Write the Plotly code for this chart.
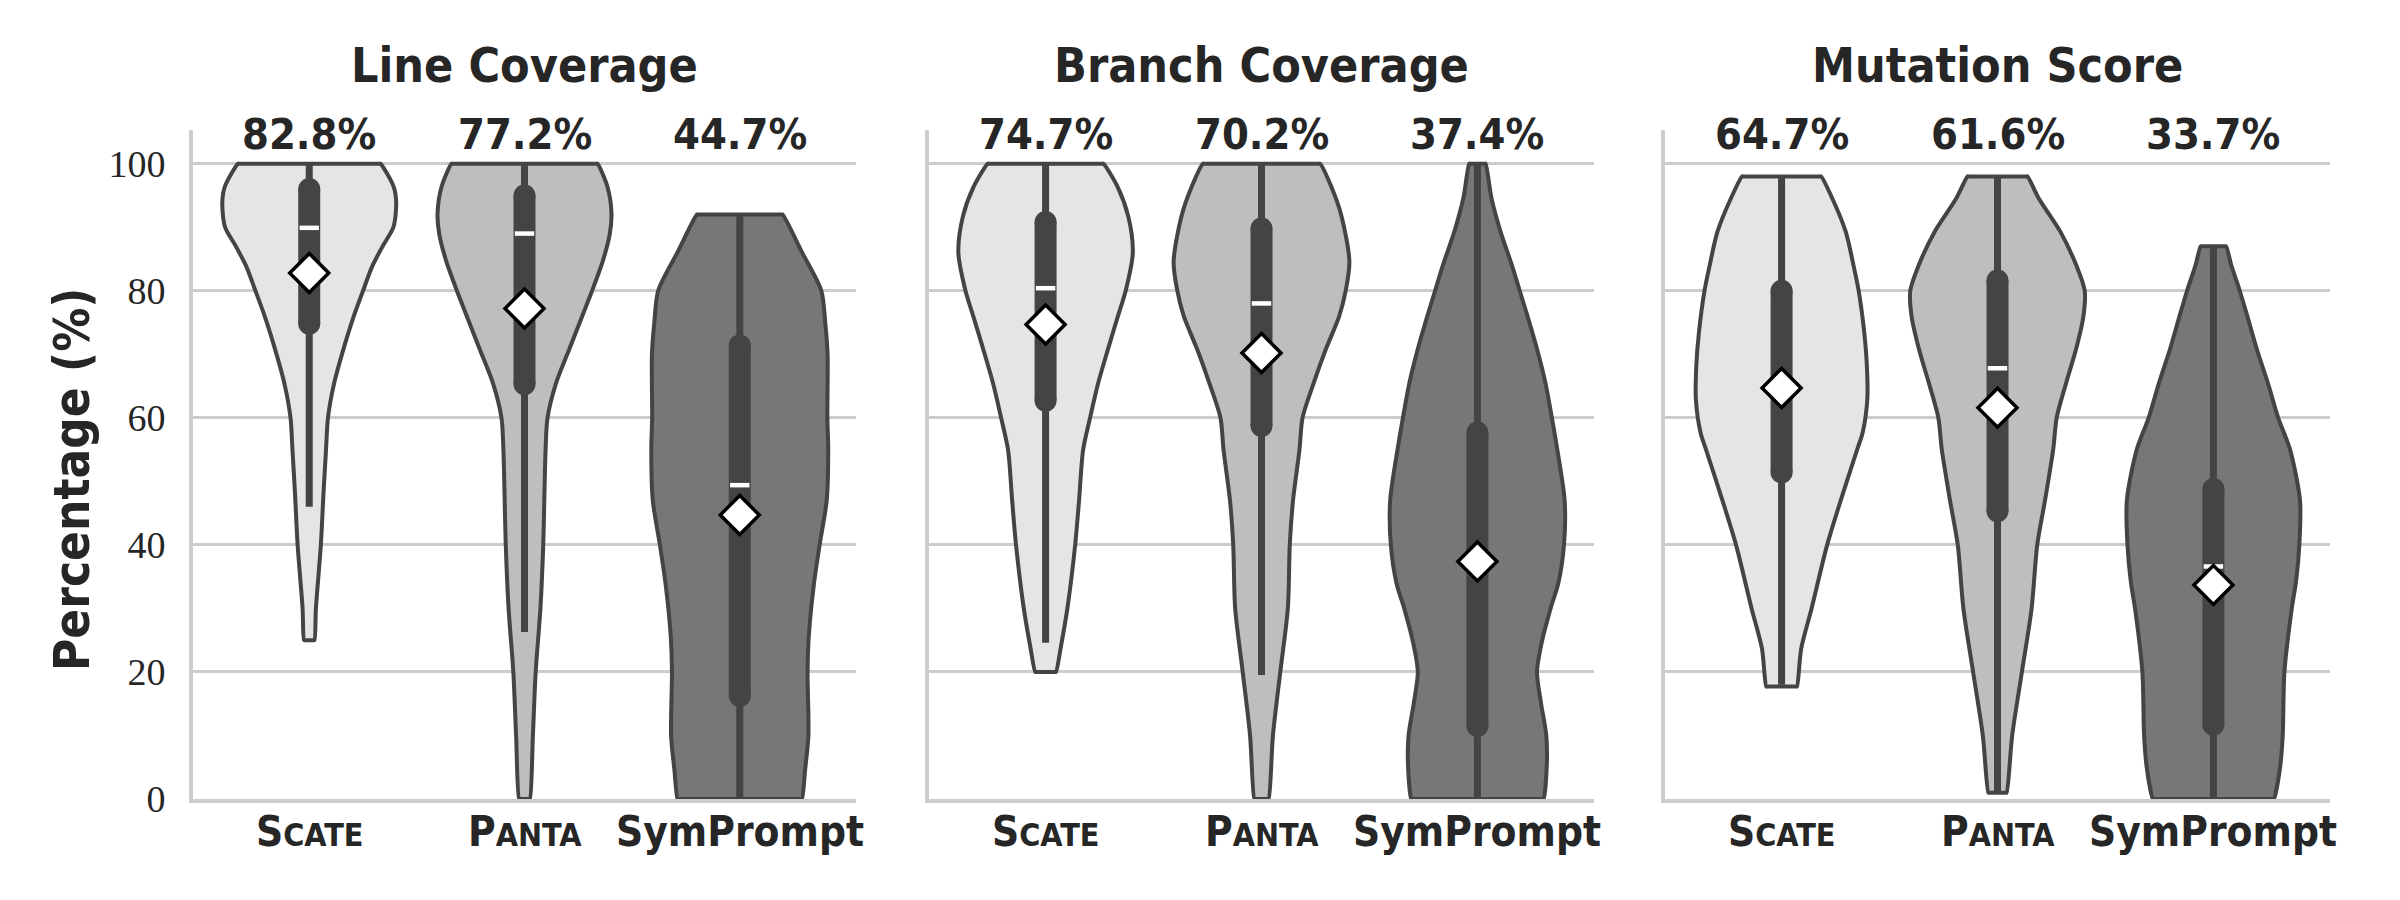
import plotly.graph_objects as go

# ---------------- data ----------------
categories = ["Scate", "Panta", "SymPrompt"]
tick_labels = ["S<span style='font-size:32px'>CATE</span>",
               "P<span style='font-size:32px'>ANTA</span>",
               "SymPrompt"]
metrics = ["Line Coverage", "Branch Coverage", "Mutation Score"]

# mean values (diamonds / labels)
lc_means = [82.8, 77.2, 44.7]
bc_means = [74.7, 70.2, 37.4]
ms_means = [64.7, 61.6, 33.7]

# medians
lc_medians = [89.9, 89.0, 49.4]
bc_medians = [80.4, 78.0, 37.0]
ms_medians = [64.5, 67.8, 36.6]

# quartiles (q1, q3)
lc_q1 = [74.8, 65.3, 16.2]
lc_q3 = [96.0, 95.0, 71.4]
bc_q1 = [62.7, 58.7, 11.5]
bc_q3 = [90.8, 89.8, 57.7]
ms_q1 = [51.4, 45.3, 11.7]
ms_q3 = [80.0, 81.6, 48.8]

# whisker ends (low, high)
lc_wlo = [46.0, 26.3, 0.0]
lc_whi = [100.0, 100.0, 92.0]
bc_wlo = [24.6, 19.5, 0.0]
bc_whi = [100.0, 100.0, 100.0]
ms_wlo = [18.0, 1.0, 0.0]
ms_whi = [98.0, 98.0, 87.0]

# violin density profiles: value levels and half-widths (category units)
lc_scate_y = [25, 30, 40, 48, 55, 60, 65.5, 70.7, 76, 80, 83.8, 87, 90, 93.8, 96.4, 100]
lc_scate_w = [.024, .031, .054, .066, .078, .087, .116, .158, .207, .250, .292, .341, .391, .404, .392, .331]
lc_panta_y = [0, 10, 20, 30, 40, 55, 60, 65.5, 70.7, 76, 80, 84.7, 88.9, 92.2, 96.4, 100]
lc_panta_w = [.025, .039, .052, .074, .087, .098, .107, .147, .207, .268, .314, .364, .396, .404, .385, .339]
lc_symp_y = [0, 4.7, 10, 20, 25.8, 33.7, 40, 47, 55, 60, 70, 75, 80, 86, 92]
lc_symp_w = [.289, .304, .319, .315, .321, .344, .371, .404, .411, .407, .408, .397, .379, .29, .199]

bc_scate_y = [20, 24, 30, 40, 47, 55, 60, 65.5, 70.7, 76, 80, 86, 91.7, 96.4, 100]
bc_scate_w = [.048, .071, .101, .137, .155, .174, .206, .244, .288, .335, .371, .404, .383, .333, .268]
bc_panta_y = [0, 10, 20, 30, 40, 47, 55, 60, 65.5, 70.7, 76, 80, 84.6, 91.7, 96.4, 100]
bc_panta_w = [.033, .053, .087, .122, .131, .146, .176, .19, .242, .297, .360, .390, .407, .371, .323, .271]
bc_symp_y = [0, 5, 10, 15, 20, 24.5, 30, 34, 40, 47, 55, 60, 65.5, 70.7, 76, 80, 84, 89.3, 94.6, 100]
bc_symp_w = [.306, .321, .319, .295, .276, .297, .339, .375, .401, .404, .37, .345, .315, .277, .232, .196, .160, .107, .065, .038]

ms_scate_y = [17.7, 23.7, 30, 40, 47, 55, 57.6, 62.9, 68.2, 73.4, 80, 84, 89.3, 94.6, 98]
ms_scate_w = [.071, .091, .139, .211, .274, .35, .375, .397, .395, .383, .357, .333, .297, .234, .183]
ms_panta_y = [1, 10, 20, 30, 40, 47, 55, 60, 65.5, 70.7, 76, 80, 84, 89.3, 94.6, 98]
ms_panta_w = [.042, .068, .113, .158, .184, .22, .258, .274, .318, .363, .398, .404, .365, .291, .190, .139]
ms_symp_y = [0, 5, 10, 20, 30, 34.3, 40, 47, 55, 60, 65.5, 70.7, 76, 80, 84, 87]
ms_symp_w = [.28, .309, .321, .329, .363, .383, .398, .401, .355, .300, .252, .202, .157, .122, .083, .059]

# ---------------- styling ----------------
fills = ["#e5e5e5", "#bebebe", "#777777"]
edge = "#444444"
text_col = "#262626"
grid_col = "#cccccc"
cond = "DejaVu Sans Condensed, Liberation Sans Narrow, DejaVu Sans, sans-serif"
serif = "Liberation Serif, DejaVu Serif, serif"

panels = [
    dict(means=lc_means, med=lc_medians, q1=lc_q1, q3=lc_q3, wlo=lc_wlo, whi=lc_whi,
         prof=[(lc_scate_y, lc_scate_w), (lc_panta_y, lc_panta_w), (lc_symp_y, lc_symp_w)]),
    dict(means=bc_means, med=bc_medians, q1=bc_q1, q3=bc_q3, wlo=bc_wlo, whi=bc_whi,
         prof=[(bc_scate_y, bc_scate_w), (bc_panta_y, bc_panta_w), (bc_symp_y, bc_symp_w)]),
    dict(means=ms_means, med=ms_medians, q1=ms_q1, q3=ms_q3, wlo=ms_wlo, whi=ms_whi,
         prof=[(ms_scate_y, ms_scate_w), (ms_panta_y, ms_panta_w), (ms_symp_y, ms_symp_w)]),
]

W, H = 2400, 900
x_dom_px = [(193, 856), (929, 1594), (1665, 2330)]
y_dom = [(900 - 799) / H, (900 - 130) / H]
EPS = 0.004  # keeps the flat cut edges straight under spline smoothing


def violin_outline(pos, ys, ws):
    yb, yt = ys[0], ys[-1]
    wb, wt = ws[0], ws[-1]
    px = [pos - wb, pos - wb + EPS, pos + wb - EPS]
    py = [yb, yb, yb]
    px += [pos + w for w in ws]
    py += list(ys)
    px += [pos + wt - EPS, pos - wt + EPS]
    py += [yt, yt]
    px += [pos - w for w in reversed(ws)]
    py += list(reversed(ys))
    return px, py


fig = go.Figure()
annotations = []

for p, panel in enumerate(panels):
    xa = "x" if p == 0 else f"x{p+1}"
    ya = "y" if p == 0 else f"y{p+1}"
    for i, (ys, ws) in enumerate(panel["prof"]):
        vx, vy = violin_outline(i, ys, ws)
        fig.add_trace(go.Scatter(
            x=vx, y=vy, mode="lines", fill="toself", fillcolor=fills[i],
            line=dict(color=edge, width=4, shape="spline", smoothing=0.8),
            xaxis=xa, yaxis=ya, showlegend=False, hoverinfo="skip"))
        # whisker
        fig.add_trace(go.Scatter(
            x=[i, i], y=[panel["wlo"][i], panel["whi"][i]], mode="lines",
            line=dict(color=edge, width=7), xaxis=xa, yaxis=ya,
            showlegend=False, hoverinfo="skip"))
        # box (IQR)
        fig.add_trace(go.Scatter(
            x=[i, i], y=[panel["q1"][i], panel["q3"][i]], mode="lines+markers",
            line=dict(color=edge, width=22),
            marker=dict(symbol="circle", size=22, color=edge, line=dict(width=0)),
            xaxis=xa, yaxis=ya, showlegend=False, hoverinfo="skip"))
        # median
        fig.add_trace(go.Scatter(
            x=[i - 0.045, i + 0.045], y=[panel["med"][i], panel["med"][i]], mode="lines",
            line=dict(color="white", width=4.5), xaxis=xa, yaxis=ya,
            showlegend=False, hoverinfo="skip"))
    # means
    fig.add_trace(go.Scatter(
        x=[0, 1, 2], y=panel["means"], mode="markers",
        marker=dict(symbol="diamond", size=30, color="white",
                    line=dict(color="black", width=3.5)),
        xaxis=xa, yaxis=ya, showlegend=False, hoverinfo="skip"))
    for i, m in enumerate(panel["means"]):
        annotations.append(dict(
            x=i, y=104.6, xref=xa, yref=ya, text=f"{m:.1f}%", showarrow=False,
            xanchor="center", yanchor="middle",
            font=dict(family=cond, size=43, color=text_col, weight="bold")))
    # category labels
    for i, lab in enumerate(tick_labels):
        annotations.append(dict(
            x=i, y=1 - 831 / H, xref=xa, yref="paper", text=lab, showarrow=False,
            xanchor="center", yanchor="middle",
            font=dict(family=cond, size=42, color=text_col, weight="bold")))
    x0, x1 = x_dom_px[p]
    annotations.append(dict(
        x=(x0 + x1) / 2 / W, y=1 - 65 / H, xref="paper", yref="paper",
        text=metrics[p], showarrow=False, xanchor="center", yanchor="middle",
        font=dict(family=cond, size=48, color=text_col, weight="bold")))

    fig.update_layout({
        ("xaxis" if p == 0 else f"xaxis{p+1}"): dict(
            domain=[x0 / W, x1 / W], anchor=ya, range=[-0.54, 2.54],
            tickmode="array", tickvals=[0, 1, 2], showticklabels=False,
            showgrid=False, zeroline=False, showline=True, linecolor=grid_col,
            linewidth=4, ticks="", automargin=False),
        ("yaxis" if p == 0 else f"yaxis{p+1}"): dict(
            domain=list(y_dom), anchor=xa, range=[0, 105.3],
            tickmode="array", tickvals=[0, 20, 40, 60, 80, 100],
            showticklabels=(p == 0), showgrid=True, gridcolor=grid_col, gridwidth=3,
            zeroline=False, showline=True, linecolor=grid_col, linewidth=4,
            ticks="", ticklabelstandoff=16, automargin=False,
            tickfont=dict(family=serif, size=38, color=text_col)),
    })

annotations.append(dict(
    x=72 / W, y=1 - 480 / H, xref="paper", yref="paper", text="Percentage (%)",
    textangle=-90, showarrow=False, xanchor="center", yanchor="middle",
    font=dict(family=cond, size=49, color=text_col, weight="bold")))

fig.update_layout(
    width=W, height=H, margin=dict(l=0, r=0, t=0, b=0, autoexpand=False),
    paper_bgcolor="white", plot_bgcolor="white",
    annotations=annotations, showlegend=False)

fig.write_html("out.html")
